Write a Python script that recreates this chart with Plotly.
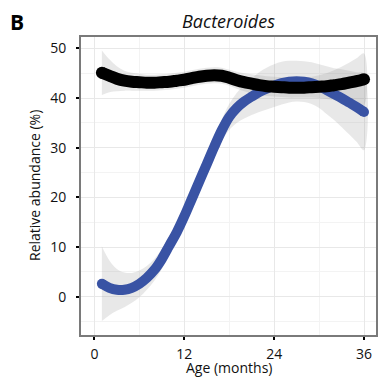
import plotly.graph_objects as go

age = list(range(1, 37))
blue_y = [2.6, 1.8, 1.4, 1.4, 1.8, 2.6, 3.8, 5.4, 7.6, 10.3, 13.0, 16.2, 19.7, 23.2, 26.7, 30.2, 33.5, 36.2,
          38.0, 39.3, 40.3, 41.2, 41.9, 42.5, 43.0, 43.3, 43.4, 43.3, 43.0, 42.4, 41.6, 40.8, 40.0, 39.1, 38.2, 37.2]
blue_se = [7.5, 5.5, 4.2, 3.5, 3.0, 2.7, 2.4, 2.2, 2.0, 1.9, 1.8, 1.8, 1.8, 1.8, 1.9, 2.0, 2.2, 2.6,
           3.0, 3.4, 3.7, 4.0, 4.2, 4.3, 4.3, 4.2, 4.1, 4.1, 4.2, 4.4, 4.8, 5.2, 5.8, 6.4, 7.0, 7.7]
black_y = [45.1, 44.5, 43.9, 43.5, 43.3, 43.2, 43.1, 43.1, 43.2, 43.3, 43.5, 43.7, 44.0, 44.3, 44.5, 44.6, 44.5, 44.1,
           43.6, 43.2, 42.9, 42.6, 42.4, 42.3, 42.2, 42.1, 42.1, 42.1, 42.2, 42.3, 42.4, 42.6, 42.8, 43.1, 43.4, 43.8]
black_se = [4.5, 3.3, 2.5, 2.0, 1.8, 1.7, 1.6, 1.6, 1.6, 1.6, 1.6, 1.6, 1.6, 1.6, 1.6, 1.6, 1.6, 1.6,
            1.7, 1.8, 1.9, 2.0, 2.0, 2.0, 2.0, 2.0, 2.0, 2.0, 2.1, 2.3, 2.6, 3.0, 3.5, 4.0, 4.6, 5.2]
x_ticks = [0, 12, 24, 36]
y_ticks = [0, 10, 20, 30, 40, 50]

FONT = "Open Sans"
BLUE = "#3953A4"
BLACK = "#000000"
BAND = "rgba(150,150,150,0.22)"
TXT = "#111111"

fig = go.Figure()

def band(y, se):
    up = [a + b for a, b in zip(y, se)]
    lo = [a - b for a, b in zip(y, se)]
    fig.add_trace(go.Scatter(x=age + age[::-1], y=up + lo[::-1], fill="toself", fillcolor=BAND,
                             line=dict(width=0, shape="spline"), mode="lines", hoverinfo="skip", showlegend=False))

def line(y, color, w):
    fig.add_trace(go.Scatter(x=age, y=y, mode="lines", line=dict(color=color, width=w, shape="spline"),
                             showlegend=False))
    fig.add_trace(go.Scatter(x=[age[0], age[-1]], y=[y[0], y[-1]], mode="markers",
                             marker=dict(color=color, size=w, line=dict(width=0)), showlegend=False))

band(blue_y, blue_se)
band(black_y, black_se)
line(blue_y, BLUE, 10)
line(black_y, BLACK, 12)

axis_common = dict(showline=True, linecolor="#7a7a7a", linewidth=2, mirror=True,
                   ticks="outside", ticklen=3, tickwidth=2, tickcolor="#000000",
                   showgrid=True, gridcolor="#e8e8e8", gridwidth=1.2,
                   tickfont=dict(family=FONT, size=14, color=TXT), zeroline=False)

fig.update_xaxes(range=[-1.79, 37.6], tickvals=x_ticks,
                 minor=dict(dtick=6, tick0=0, showgrid=True, gridcolor="#f3f3f3", gridwidth=1.2, ticks=""),
                 ticklabelstandoff=2, **axis_common)
fig.update_yaxes(range=[-7.7, 52.3], tickvals=y_ticks,
                 minor=dict(dtick=5, tick0=0, showgrid=True, gridcolor="#f3f3f3", gridwidth=1.2, ticks=""),
                 ticklabelstandoff=7, **axis_common)

# plot area: x 81..378 px, y 37..335 px
fig.update_layout(
    width=378, height=379,
    margin=dict(l=81, r=0, t=37, b=44),
    paper_bgcolor="white", plot_bgcolor="white",
    font=dict(family=FONT, color=TXT),
    showlegend=False,
    annotations=[
        dict(text="<i>Bacteroides</i>", x=0.5, y=1, xref="paper", yref="paper", xanchor="center",
             yanchor="middle", yshift=16, showarrow=False, font=dict(family=FONT, size=18, color=TXT)),
        dict(text="<b>B</b>", x=0, y=1, xref="paper", yref="paper", xanchor="center",
             yanchor="middle", xshift=17 - 81, yshift=37 - 22, showarrow=False,
             font=dict(family=FONT, size=21, color="#000")),
        dict(text="Relative abundance (%)", x=0, y=0.5, xref="paper", yref="paper", xanchor="center",
             yanchor="middle", xshift=-47, textangle=-90, showarrow=False,
             font=dict(family=FONT, size=14, color=TXT)),
        dict(text="Age (months)", x=0.5, y=0, xref="paper", yref="paper", xanchor="center",
             yanchor="middle", yshift=-32, showarrow=False, font=dict(family=FONT, size=14, color=TXT)),
    ],
)
fig.write_html("out.html")
